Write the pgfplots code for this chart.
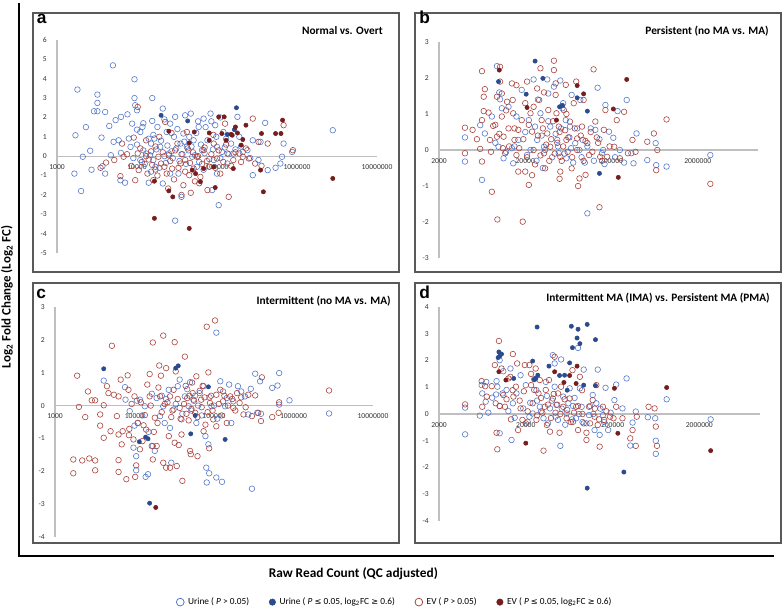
\documentclass[border=0pt]{standalone}
\usepackage{pgfplots}
\pgfplotsset{compat=1.18}
\usepackage{fontspec}
\setmainfont{Carlito}
\newfontfamily\arialf{Liberation Sans}
\newfontfamily\symf{DejaVu Sans}
\definecolor{cuo}{HTML}{5479CC}
\definecolor{cuf}{HTML}{2B4B8E}
\definecolor{ceo}{HTML}{AC433E}
\definecolor{cef}{HTML}{761D1D}
\definecolor{axgray}{HTML}{BFBFBF}
\definecolor{boxgray}{HTML}{595959}
\definecolor{tickgray}{HTML}{333333}
\pgfplotsset{
  mypanelaxis/.style={
    scale only axis,
    axis x line=middle, axis y line=left,
    axis line style={-, draw=axgray, line width=0.8pt},
    major tick length=0pt, minor tick length=0pt,
    xminorticks=false, yminorticks=false,
    hide obscured x ticks=false, hide obscured y ticks=false,
    tick label style={font=\fontsize{5.7}{6.5}\selectfont, text=tickgray, inner sep=0pt},
    yticklabel style={anchor=east, xshift=-7.5pt},
    xticklabel style={anchor=north, yshift=-6pt},
    clip=false,
  },
  pUO/.style={only marks, forget plot, mark=o, mark size=2.1pt, mark options={draw=cuo, line width=0.45pt}},
  pEO/.style={only marks, forget plot, mark=o, mark size=2.1pt, mark options={draw=ceo, line width=0.45pt}},
  pUF/.style={only marks, forget plot, mark=*, mark size=1.6pt, mark options={draw=cuf, fill=cuf}},
  pEF/.style={only marks, forget plot, mark=*, mark size=1.6pt, mark options={draw=cef, fill=cef}},
  smallimg/.style={legend image code/.code={\draw[##1] plot coordinates {(0.1cm,0cm)};}},
}
\begin{document}
\begin{tikzpicture}
\useasboundingbox (0,0) rectangle (588pt,456pt);
% outer L frame
\draw[black, line width=1.1pt] (14.25pt,453.75pt) -- (14.25pt,39pt) -- (580.5pt,39pt);
% panel boxes
\draw[boxgray, line width=0.9pt] (24.75pt,252pt) rectangle (299.25pt,446.25pt);
\draw[boxgray, line width=0.9pt] (311.25pt,252pt) rectangle (585.75pt,446.25pt);
\draw[boxgray, line width=0.9pt] (24.75pt,48.75pt) rectangle (299.25pt,243.75pt);
\draw[boxgray, line width=0.9pt] (311.25pt,48.75pt) rectangle (585.75pt,243.75pt);

% ---------------- panel a ----------------
\begin{axis}[mypanelaxis, xmode=log, at={(42.75pt,266.25pt)}, anchor=south west,
  width=240pt, height=159.75pt, ymin=-5, ymax=6,
  xmin=1000, xmax=1e7, xtick={1000,10000,100000,1000000,10000000},
  xticklabels={1000,10000,100000,1000000,10000000},
  ytick={-5,-4,-3,-2,-1,0,1,2,3,4,5,6},
  yticklabels={-5,-4,-3,-2,-1,0,1,2,3,4,5,6}]
\addplot[pUO] coordinates {(1.8e3,3.44)(1.7e3,1.08)(1.65e3,-0.9)(2.0e3,-1.8)(2.1e3,-0.03)(2.3e3,1.5)(2.6e3,0.28)(2.7e3,-0.7)(2.9e3,2.32)(3.2e3,3.18)(3.2e3,2.75)(3.2e3,2.32)(3.6e3,0.96)(3.7e3,-0.52)(4.0e3,2.28)(4.0e3,-0.9)(4.5e3,1.56)(4.7e3,0.05)(5.0e3,4.69)(5.1e3,0.74)(5.4e3,1.86)(5.9e3,0.82)(6.3e3,2.03)(6.3e3,0.17)(6.2e3,-1.24)(7.1e3,-1.37)(7.6e3,2.16)(7.9e3,0.91)(8.3e3,0.48)(8.7e3,1.68)(9.3e3,3.97)(9.3e3,3.0)(9.5e3,2.63)(1.0e4,2.37)(1.0e4,1.37)(1.1e4,1.25)(1.1e4,-0.2)(1.17e4,1.51)(1.3e4,0.14)(1.4e4,-1.37)(1.5e4,0.65)(1.55e4,3.0)(1.55e4,1.82)(1.65e4,0.91)(1.7e4,-0.55)(1.8e4,1.51)(1.95e4,0.48)(2.1e4,2.46)(2.1e4,-1.41)(2.35e4,1.25)(2.5e4,0.14)(2.6e4,1.68)(2.9e4,1.0)(3.0e4,2.03)(3.0e4,-3.33)(3.3e4,-0.9)(3.5e4,0.65)(3.6e4,-2.1)(3.8e4,1.17)(4.0e4,2.11)(4.2e4,0.48)(4.7e4,2.2)(4.9e4,-0.03)(5.1e4,0.82)(5.6e4,-0.55)(5.9e4,1.51)(6.5e4,0.31)(6.8e4,1.94)(7.6e4,0.82)(8.3e4,2.2)(8.7e4,-1.75)(9.1e4,-0.2)(9.5e4,1.6)(1.0e5,0.48)(1.05e5,-2.53)(1.15e5,0.22)(1.2e5,1.25)(1.35e5,-0.38)(1.5e5,0.65)(1.6e5,0.14)(1.8e5,2.03)(1.9e5,1.0)(2.1e5,0.22)(2.4e5,0.31)(2.8e5,0.82)(2.8e5,-0.98)(3.3e5,-0.2)(3.5e5,0.74)(4.0e5,1.72)(4.3e5,-0.72)(5.4e5,-0.6)(6.2e5,-0.38)(6.5e5,-0.03)(6.8e5,0.65)(8.7e5,0.22)(2.8e6,1.34)
(1.2e4,0.3)(1.25e4,-0.4)(1.4e4,0.9)(1.45e4,0.05)(1.6e4,-0.2)(1.6e4,1.1)(1.75e4,0.35)(1.9e4,-0.6)(2.0e4,0.8)(2.2e4,0.0)(2.3e4,-0.35)(2.4e4,0.55)(2.7e4,0.25)(2.8e4,-0.1)(3.1e4,0.4)(3.2e4,1.4)(3.4e4,-0.25)(3.7e4,0.1)(3.9e4,0.75)(4.1e4,-0.4)(4.4e4,0.3)(4.5e4,1.0)(4.8e4,0.5)(5.3e4,0.05)(5.5e4,1.2)(6.0e4,-0.3)(6.3e4,0.6)(7.0e4,0.15)(7.2e4,1.5)(8.0e4,-0.15)(8.9e4,0.35)(9.8e4,1.0)(1.1e5,-0.1)(1.25e5,0.45)(1.3e5,0.9)(1.4e5,0.1)(1.7e5,0.35)(1.2e4,1.7)(1.0e4,0.6)(9e3,-0.1)(1.5e4,-0.8)(2.6e4,-0.9)(6.8e4,-0.7)(1.0e5,-0.9)(2.0e5,0.5)(2.6e5,-0.1)(5.8e4,1.8)(8.5e4,1.8)(1.1e5,2.0)(2.2e4,1.9)};
\addplot[pEO] coordinates {(4.1e3,-0.33)(6.2e3,-1.03)(6.5e3,0.65)(6.8e3,-0.03)(9.1e3,0.96)(9.5e3,-1.24)(1.02e4,0.14)(1.05e4,-0.72)(1.02e4,2.54)(1.3e4,0.82)(1.4e4,-0.17)(1.6e4,-1.24)(1.7e4,-0.69)(1.85e4,-0.03)(2.0e4,-0.38)(2.25e4,1.77)(2.35e4,-0.9)(2.45e4,-1.67)(2.75e4,-0.64)(3.2e4,0.65)(3.5e4,-0.38)(3.6e4,-2.0)(3.8e4,-1.5)(4.0e4,-0.2)(4.2e4,1.25)(4.5e4,-0.98)(4.7e4,-1.89)(5.1e4,-0.64)(5.6e4,-0.03)(6.2e4,-1.07)(6.8e4,0.31)(7.6e4,-1.75)(8.0e4,-0.55)(9.1e4,0.65)(1.0e5,-0.12)(1.1e5,-0.9)(1.26e5,1.68)(1.35e5,0.14)(1.4e5,-2.1)(1.6e5,-0.2)(1.9e5,0.14)(2.1e5,-0.03)(2.5e5,-0.12)(2.8e5,1.94)(3.0e5,-0.38)(3.3e5,0.74)(4.3e5,0.65)(6.8e5,1.6)(8.9e5,0.31)
(3.5e3,-0.6)(5.2e3,-0.2)(7.5e3,0.1)(8.5e3,-0.5)(1.1e4,0.4)(1.15e4,-0.3)(1.3e4,0.0)(1.35e4,-0.9)(1.5e4,0.25)(1.55e4,-0.45)(1.7e4,0.5)(1.8e4,-1.0)(2.1e4,0.2)(2.2e4,-0.55)(2.5e4,0.05)(2.6e4,-0.25)(2.9e4,-1.2)(3.0e4,0.3)(3.3e4,-0.6)(3.6e4,0.1)(4.0e4,-0.8)(4.3e4,0.4)(4.6e4,-0.35)(5.0e4,0.2)(5.3e4,-1.3)(5.8e4,0.0)(6.5e4,-0.4)(7.0e4,0.45)(7.5e4,-0.25)(8.5e4,0.1)(9.5e4,-0.6)(1.05e5,0.3)(1.2e5,-0.3)(1.3e5,0.6)(1.5e5,-0.5)(1.7e5,0.2)(2.0e5,-0.3)(2.3e5,0.4)(3.6e5,-0.5)(9e4,1.1)(6e4,-1.4)(2.7e4,1.2)(1.9e4,1.0)};
\addplot[pUF] coordinates {(2.0e4,2.11)(4.3e4,1.82)(1.75e5,2.5)(1.65e5,1.37)(1.35e5,1.12)};
\addplot[pEF] coordinates {(1.65e4,-1.29)(1.65e4,-3.21)(2.5e4,1.29)(2.5e4,-1.79)(2.8e4,-2.1)(4.5e4,0.69)(4.5e4,-3.73)(4.9e4,-0.72)(5.2e4,1.25)(5.4e4,-0.9)(6.2e4,-1.32)(6.8e4,-0.64)(8.0e4,0.82)(8.0e4,1.2)(9.1e4,-0.55)(9.5e4,-1.62)(1.05e5,2.03)(1.15e5,1.17)(1.23e5,2.03)(1.3e5,0.82)(1.5e5,1.13)(1.55e5,1.08)(1.6e5,-0.64)(1.7e5,1.51)(1.8e5,1.2)(2.0e5,0.57)(2.1e5,0.86)(2.3e5,1.6)(3.5e5,-0.72)(3.6e5,1.17)(3.8e5,-1.84)(5.4e5,1.17)(6.3e5,1.17)(6.6e5,1.86)(2.8e6,-1.15)};
\end{axis}

% ---------------- panel b ----------------
\begin{axis}[mypanelaxis, xmode=log, at={(329.25pt,262.5pt)}, anchor=south west,
  width=239.25pt, height=162pt, ymin=-3, ymax=3,
  xmin=2000, xmax=1e7, xtick={2000,20000,200000,2000000},
  xticklabels={2000,20000,200000,2000000},
  ytick={-3,-2,-1,0,1,2,3}, yticklabels={-3,-2,-1,0,1,2,3}]
\addplot[pUO] coordinates {(4.0e3,0.35)(4.0e3,-0.32)(6.0e3,0.69)(6.3e3,-0.83)(6.8e3,0.46)(8.2e3,0.93)(9.4e3,2.33)(9.8e3,0.09)(1.02e4,1.41)(1.07e4,1.16)(1.12e4,-0.23)(1.28e4,1.2)(1.4e4,0.05)(1.45e4,-0.37)(1.58e4,0.93)(1.66e4,0.28)(1.82e4,1.67)(2.1e4,-0.14)(2.2e4,0.83)(2.5e4,1.96)(2.6e4,0.65)(2.75e4,0.28)(3.0e4,1.02)(3.3e4,0.09)(3.6e4,1.96)(3.7e4,1.57)(3.9e4,0.65)(4.3e4,1.76)(4.7e4,0.28)(4.9e4,-0.09)(5.1e4,1.93)(5.4e4,1.16)(5.9e4,0.83)(6.0e4,-0.23)(6.6e4,0.65)(6.9e4,1.53)(7.6e4,0.19)(8.7e4,1.39)(9.3e4,0.28)(9.8e4,-0.35)(1.05e5,-1.76)(1.15e5,0.6)(1.3e5,0.56)(1.38e5,1.73)(1.55e5,-0.09)(1.66e5,-0.39)(1.7e5,1.25)(1.87e5,0.51)(2.1e5,0.34)(2.35e5,1.08)(2.8e5,-0.35)(3.0e5,1.39)(3.4e5,-0.09)(3.6e5,-0.37)(3.9e5,0.46)(5.2e5,-0.28)(6.5e5,0.19)(6.6e5,-0.42)(8.7e5,-0.46)(2.8e6,-0.14)
(1.5e4,0.1)(2.0e4,0.5)(2.3e4,0.0)(2.7e4,-0.3)(3.1e4,0.4)(3.4e4,0.0)(3.7e4,0.8)(4.1e4,-0.2)(4.5e4,0.45)(4.8e4,0.1)(5.2e4,0.6)(5.7e4,-0.1)(6.3e4,0.35)(6.8e4,0.05)(7.2e4,-0.35)(8.0e4,0.6)(8.5e4,0.0)(9.0e4,-0.2)(1.05e5,0.1)(1.25e5,-0.3)(1.45e5,0.3)(1.6e5,0.0)(2.2e5,-0.2)(2.5e5,0.0)(1.0e4,1.6)(2.8e4,1.4)(3.2e4,-0.5)(5.5e4,1.3)(9e3,0.2)(1.2e4,-0.05)};
\addplot[pEO] coordinates {(4.0e3,0.62)(4.0e3,-0.09)(4.9e3,0.56)(5.5e3,0.3)(6.3e3,2.19)(6.6e3,1.48)(6.8e3,1.69)(6.6e3,1.08)(6.3e3,0.83)(6.0e3,0.03)(6.3e3,-0.32)(7.5e3,1.04)(7.8e3,0.28)(8.2e3,-1.16)(8.5e3,0.67)(9.4e3,0.37)(9.5e3,-1.93)(9.4e3,1.48)(1.02e4,2.31)(1.02e4,1.9)(1.07e4,1.57)(1.07e4,0.93)(1.12e4,0.37)(1.17e4,-0.09)(1.23e4,1.34)(1.28e4,0.6)(1.4e4,1.85)(1.43e4,1.39)(1.45e4,1.02)(1.5e4,0.28)(1.58e4,1.8)(1.58e4,-0.14)(1.66e4,0.56)(1.66e4,-0.6)(1.82e4,0.83)(1.87e4,-1.99)(2.0e4,-0.6)(2.1e4,1.9)(2.2e4,-0.97)(2.3e4,1.02)(2.4e4,0.51)(2.5e4,1.2)(2.75e4,1.71)(2.9e4,1.39)(3.0e4,2.27)(3.1e4,0.83)(3.3e4,-0.09)(3.4e4,-0.51)(3.6e4,0.46)(3.7e4,1.11)(3.9e4,0.09)(4.3e4,2.48)(4.3e4,2.22)(4.5e4,1.85)(4.5e4,1.53)(4.6e4,1.02)(4.9e4,0.65)(5.1e4,-0.19)(5.1e4,-0.6)(5.6e4,1.11)(5.9e4,1.81)(6.0e4,0.28)(6.6e4,0.79)(6.9e4,-0.51)(7.3e4,1.3)(7.8e4,1.9)(8.0e4,0.32)(8.2e4,-1.0)(8.5e4,-0.79)(9.1e4,0.65)(9.5e4,1.39)(1.0e5,-0.69)(1.05e5,0.19)(1.1e5,-0.14)(1.24e5,2.24)(1.3e5,0.79)(1.35e5,0.35)(1.45e5,-1.59)(1.48e5,-0.19)(1.63e5,0.56)(1.7e5,1.11)(1.78e5,-0.19)(2.15e5,0.09)(2.3e5,0.83)(2.5e5,-0.23)(2.8e5,1.06)(3.1e5,-0.09)(3.5e5,0.28)(3.8e5,-0.05)(5.2e5,0.23)(6.2e5,0.46)(6.6e5,-0.56)(6.8e5,0.0)(8.7e5,0.85)(2.8e6,-0.94)
(1.3e4,0.1)(1.5e4,0.6)(1.7e4,0.05)(1.9e4,0.3)(2.1e4,-0.2)(2.2e4,0.7)(2.5e4,0.0)(2.6e4,-0.4)(2.8e4,0.4)(3.0e4,-0.15)(3.2e4,0.6)(3.5e4,0.15)(3.8e4,-0.3)(4.0e4,0.3)(4.2e4,0.8)(4.4e4,-0.1)(4.7e4,0.2)(5.0e4,0.5)(5.3e4,-0.3)(5.5e4,0.1)(5.8e4,0.55)(6.2e4,-0.05)(6.5e4,0.35)(7.0e4,-0.2)(7.5e4,0.6)(8.0e4,0.0)(8.8e4,0.4)(9.5e4,-0.3)(1.0e5,0.25)(1.15e5,0.5)(1.2e5,-0.05)(1.4e5,0.2)(1.55e5,-0.3)(1.9e5,0.1)(1.0e4,0.45)(1.1e4,0.05)(8e3,-0.05)(9e3,0.7)(1.2e4,1.1)(2.0e4,1.3)(3.3e4,1.6)(2.4e4,-0.7)(5.0e4,-0.8)(6.0e4,1.0)};
\addplot[pUF] coordinates {(9.8e3,1.9)(2.05e4,1.55)(2.6e4,2.47)(3.2e4,1.99)(5.0e4,1.2)(5.4e4,1.24)(8.0e4,1.45)(1.05e5,1.08)(1.45e5,-0.65)};
\addplot[pEF] coordinates {(1.0e4,2.22)(2.1e4,1.18)(4.6e4,0.83)(8.0e4,1.79)(9.5e4,1.56)(2.1e5,1.14)(2.4e5,-0.76)(3.0e5,1.96)};
\end{axis}

% ---------------- panel c ----------------
\begin{axis}[mypanelaxis, xmode=log, at={(41.25pt,53.25pt)}, anchor=south west,
  width=238.5pt, height=172.5pt, ymin=-4, ymax=3,
  xmin=1000, xmax=1e7, xtick={1000,10000,100000,1000000,10000000},
  xticklabels={1000,10000,100000,1000000,10000000},
  ytick={-4,-3,-2,-1,0,1,2,3}, yticklabels={-4,-3,-2,-1,0,1,2,3},
  legend columns=4,
  legend style={at={(axis description cs:1.07,-0.283)}, anchor=center, draw=none, fill=none,
    font=\fontsize{7}{8}\selectfont, /tikz/every even column/.append style={column sep=13pt},
    /tikz/every odd column/.append style={column sep=1pt}},
  legend cell align=left,
  ]
\addlegendimage{only marks, mark=o, mark size=2.9pt, mark options={draw=cuo, line width=0.6pt}, smallimg}
\addlegendentry{Urine ( \textit{P} > 0.05)}
\addlegendimage{only marks, mark=*, mark size=2.4pt, mark options={draw=cuf, fill=cuf}, smallimg}
\addlegendentry{Urine ( \textit{P} {\symf\fontsize{6.2}{8}\selectfont ≤} 0.05, log\textsubscript{2}FC {\symf\fontsize{6.2}{8}\selectfont ≥} 0.6)}
\addlegendimage{only marks, mark=o, mark size=2.9pt, mark options={draw=ceo, line width=0.6pt}, smallimg}
\addlegendentry{EV ( \textit{P} > 0.05)}
\addlegendimage{only marks, mark=*, mark size=2.4pt, mark options={draw=cef, fill=cef}, smallimg}
\addlegendentry{EV ( \textit{P} {\symf\fontsize{6.2}{8}\selectfont ≤} 0.05, log\textsubscript{2}FC {\symf\fontsize{6.2}{8}\selectfont ≥} 0.6)}
\addplot[pUO] coordinates {(4.1e3,0.76)(7.6e3,0.56)(7.7e3,0.18)(8.7e3,-0.17)(9.7e3,-1.28)(1.0e4,-0.61)(1.07e4,0.15)(1.05e4,-1.54)(1.05e4,-1.97)(1.1e4,-0.53)(1.17e4,0.18)(1.35e4,-0.02)(1.38e4,-2.17)(1.48e4,-2.09)(1.65e4,0.36)(1.7e4,-1.23)(1.8e4,-1.38)(1.9e4,0.23)(2.1e4,-0.32)(2.3e4,-0.02)(2.4e4,-0.53)(2.7e4,0.48)(2.8e4,-0.68)(2.9e4,-1.74)(3.1e4,-0.12)(3.5e4,0.59)(3.7e4,0.79)(3.9e4,-0.42)(4.3e4,0.28)(4.8e4,-0.02)(5.0e4,0.71)(5.5e4,0.18)(6.0e4,-0.53)(6.6e4,0.38)(7.4e4,0.59)(7.8e4,-0.93)(8.0e4,-1.89)(8.1e4,-2.34)(8.5e4,-1.18)(8.7e4,-2.06)(9.3e4,-0.02)(1.07e5,2.22)(1.07e5,-2.19)(1.2e5,0.74)(1.26e5,-2.32)(1.3e5,0.43)(1.38e5,-0.02)(1.45e5,0.23)(1.55e5,0.64)(1.65e5,-0.53)(1.75e5,0.13)(2.0e5,0.59)(2.2e5,0.43)(2.45e5,0.28)(2.7e5,-0.27)(2.9e5,0.51)(3.0e5,-2.53)(3.3e5,0.97)(3.5e5,-0.22)(3.8e5,0.74)(3.9e5,-0.25)(5.4e5,0.54)(6.3e5,0.61)(6.6e5,0.99)(6.6e5,0.03)(8.9e5,0.16)(2.8e6,-0.24)
(2.5e4,0.2)(3.3e4,0.05)(4.0e4,-0.25)(4.6e4,0.5)(5.2e4,-0.15)(5.8e4,0.3)(6.3e4,0.0)(7.0e4,-0.3)(8.8e4,0.25)(1.0e5,0.0)(1.1e5,-0.4)(2.2e4,0.3)(1.5e4,-0.8)(1.25e4,-0.3)};
\addplot[pEO] coordinates {(1.9e3,0.91)(1.7e3,-1.64)(1.7e3,-2.06)(2.0e3,-0.04)(2.2e3,-1.67)(2.4e3,-0.35)(2.6e3,0.43)(2.7e3,-1.61)(2.9e3,0.16)(3.2e3,0.16)(3.2e3,-1.67)(3.2e3,-1.97)(3.7e3,-0.27)(3.7e3,-0.61)(4.1e3,0.01)(4.1e3,-0.98)(4.5e3,0.59)(4.7e3,0.38)(5.0e3,-0.78)(5.2e3,1.82)(5.5e3,0.33)(6.0e3,-0.32)(6.3e3,0.28)(6.3e3,-0.88)(6.3e3,-1.66)(6.3e3,-2.02)(6.7e3,0.79)(6.9e3,-1.18)(7.1e3,-0.78)(7.9e3,-2.24)(8.2e3,0.92)(8.4e3,0.48)(8.6e3,-0.71)(9.2e3,0.05)(9.7e3,-1.03)(1.0e4,0.28)(1.02e4,-2.17)(1.05e4,-1.82)(1.1e4,-0.53)(1.17e4,-1.33)(1.26e4,-1.08)(1.35e4,-0.29)(1.4e4,-0.73)(1.45e4,0.64)(1.55e4,0.96)(1.55e4,0.28)(1.65e4,-1.23)(1.7e4,1.92)(1.7e4,-1.64)(1.8e4,-0.37)(1.9e4,-1.23)(1.95e4,-0.53)(2.05e4,1.22)(2.1e4,0.28)(2.15e4,0.91)(2.3e4,2.13)(2.3e4,-1.74)(2.4e4,0.05)(2.5e4,1.14)(2.5e4,-1.89)(2.7e4,-0.93)(2.8e4,0.28)(2.8e4,-1.89)(2.9e4,-0.35)(3.1e4,0.48)(3.2e4,1.93)(3.2e4,-1.13)(3.3e4,1.04)(3.4e4,-1.84)(3.7e4,-0.07)(3.9e4,-0.88)(4.0e4,-2.29)(4.3e4,1.49)(4.6e4,0.23)(4.8e4,-0.45)(5.0e4,-1.38)(5.1e4,-1.48)(5.4e4,0.38)(5.8e4,-0.22)(6.0e4,0.89)(6.2e4,-1.54)(6.9e4,0.18)(7.4e4,-0.78)(7.8e4,-0.58)(8.1e4,2.4)(8.5e4,1.01)(8.7e4,-1.3)(8.9e4,0.08)(9.8e4,-0.42)(1.03e5,2.59)(1.07e5,0.33)(1.07e5,-0.63)(1.2e5,0.48)(1.3e5,0.13)(1.45e5,-0.53)(1.6e5,0.28)(1.75e5,-0.07)(1.95e5,0.38)(2.1e5,0.08)(2.35e5,-0.27)(2.7e5,0.33)(3.0e5,-0.32)(3.3e5,0.31)(3.6e5,-0.22)(3.9e5,-0.47)(4.0e5,0.86)(5.4e5,-0.35)(6.5e5,-0.22)(6.6e5,0.1)(2.8e6,0.46)
(2.2e4,-0.2)(2.6e4,0.1)(3.0e4,-0.15)(3.5e4,0.2)(3.8e4,-0.4)(4.2e4,0.05)(4.5e4,-0.25)(4.9e4,0.3)(5.2e4,-0.1)(5.6e4,0.15)(6.2e4,-0.35)(6.6e4,0.45)(7.0e4,-0.05)(7.6e4,0.25)(8.3e4,-0.2)(9.2e4,0.3)(9.6e4,-0.15)(1.15e5,0.05)(1.25e5,-0.3)(1.35e5,0.3)(1.5e5,0.0)(1.7e5,0.2)(1.85e5,-0.15)(2.2e5,0.25)(2.5e5,-0.05)(1.2e4,0.1)(1.3e4,-0.6)(1.6e4,0.0)(1.75e4,-0.8)(2.0e4,0.55)(8.5e3,-0.9)(3.6e4,-1.2)(4.4e4,0.6)(5.3e4,0.7)(7.2e4,0.6)};
\addplot[pUF] coordinates {(4.1e3,1.12)(1.15e4,-1.1)(1.38e4,-0.96)(1.48e4,-1.01)(1.55e4,-2.97)(3.3e4,1.14)(3.55e4,1.21)(5.1e4,-0.86)(5.8e4,-0.3)(8.5e4,0.57)(1.38e5,-1.03)};
\addplot[pEF] coordinates {(1.85e4,-3.1)};
\end{axis}

% ---------------- panel d ----------------
\begin{axis}[mypanelaxis, xmode=log, at={(329.25pt,65.25pt)}, anchor=south west,
  width=240.75pt, height=160.5pt, ymin=-4, ymax=4,
  xmin=2000, xmax=1e7, xtick={2000,20000,200000,2000000},
  xticklabels={2000,20000,200000,2000000},
  ytick={-4,-3,-2,-1,0,1,2,3,4}, yticklabels={-4,-3,-2,-1,0,1,2,3,4}]
\addplot[pUO] coordinates {(4.0e3,-0.76)(4.0e3,0.24)(5.9e3,-0.06)(6.2e3,1.08)(6.3e3,0.77)(6.9e3,0.46)(7.4e3,0.05)(8.2e3,0.61)(9.1e3,0.73)(9.2e3,1.23)(9.4e3,1.02)(1.0e4,-0.72)(1.0e4,2.01)(1.08e4,0.77)(1.26e4,0.11)(1.33e4,1.7)(1.37e4,-0.97)(1.42e4,0.4)(1.49e4,-0.14)(1.56e4,0.77)(1.74e4,1.45)(1.87e4,0.21)(2.0e4,1.08)(2.1e4,-0.29)(2.25e4,0.42)(2.4e4,0.02)(2.65e4,0.89)(2.9e4,0.27)(3.2e4,-0.16)(3.5e4,0.68)(3.6e4,-0.35)(3.8e4,0.21)(4.1e4,2.2)(4.3e4,1.89)(4.3e4,1.02)(4.5e4,0.34)(4.7e4,-0.22)(5.0e4,-1.19)(5.1e4,2.04)(5.4e4,0.65)(5.9e4,0.02)(6.4e4,0.96)(7.0e4,0.3)(7.6e4,-0.16)(8.0e4,2.47)(8.4e4,0.96)(8.8e4,0.27)(9.3e4,1.66)(1.0e5,-0.35)(1.07e5,-0.04)(1.18e5,0.71)(1.24e5,-0.6)(1.3e5,0.4)(1.35e5,1.66)(1.42e5,-0.78)(1.55e5,-0.04)(1.66e5,0.98)(1.78e5,-0.6)(1.9e5,0.05)(2.1e5,0.52)(2.2e5,1.1)(2.6e5,0.21)(2.9e5,1.33)(3.2e5,-1.18)(3.4e5,-0.32)(3.7e5,0.09)(5.1e5,-0.12)(6.2e5,-0.16)(6.3e5,-1.0)(6.3e5,-1.49)(8.4e5,0.55)(2.7e6,-0.2)
(2.2e4,-0.1)(2.7e4,0.5)(3.0e4,0.1)(3.4e4,1.2)(4.0e4,0.5)(4.4e4,-0.1)(5.2e4,0.2)(5.7e4,-0.4)(6.2e4,0.4)(6.8e4,-0.2)(7.3e4,0.6)(8.2e4,0.0)(9.0e4,-0.3)(1.1e5,0.3)(1.2e5,0.0)(1.45e5,0.2)(1.6e5,-0.3)(1.0e4,0.3)(1.1e4,1.6)(1.2e4,0.9)(7e3,1.2)(2.5e4,1.3)};
\addplot[pEO] coordinates {(4.0e3,0.36)(6.2e3,1.23)(6.3e3,0.27)(6.8e3,1.04)(7.1e3,0.65)(8.1e3,1.04)(8.8e3,1.83)(9.2e3,-0.7)(9.4e3,-1.32)(9.8e3,2.73)(1.0e4,0.3)(1.05e4,1.7)(1.1e4,0.71)(1.15e4,0.27)(1.26e4,1.33)(1.33e4,1.39)(1.41e4,0.89)(1.42e4,2.24)(1.44e4,0.65)(1.54e4,1.02)(1.59e4,1.89)(1.63e4,-0.6)(1.74e4,0.21)(1.83e4,-0.22)(1.95e4,1.83)(2.0e4,-0.35)(2.2e4,1.83)(2.3e4,1.08)(2.4e4,0.4)(2.6e4,1.7)(2.65e4,-0.22)(2.8e4,0.77)(2.9e4,1.27)(3.2e4,-1.37)(3.3e4,0.27)(3.5e4,-0.41)(3.7e4,1.27)(3.8e4,-0.66)(4.1e4,0.58)(4.3e4,2.14)(4.4e4,0.05)(4.7e4,0.77)(4.9e4,-0.7)(5.1e4,1.02)(5.4e4,0.27)(5.9e4,-0.16)(6.4e4,0.58)(6.9e4,1.64)(7.0e4,-0.29)(7.6e4,0.27)(8.0e4,-0.6)(8.4e4,1.39)(8.9e4,0.89)(9.3e4,-0.35)(1.0e5,-0.7)(1.0e5,-0.97)(1.07e5,0.27)(1.18e5,0.52)(1.24e5,-0.1)(1.3e5,1.08)(1.35e5,-0.41)(1.42e5,-1.22)(1.55e5,0.27)(1.6e5,-0.22)(1.87e5,-0.1)(2.05e5,-0.16)(2.2e5,0.27)(2.6e5,-0.16)(3.2e5,-0.91)(3.4e5,-0.6)(3.7e5,-1.19)(3.8e5,-0.1)(5.2e5,0.27)(6.1e5,0.21)(6.3e5,-0.47)(6.5e5,-1.19)
(1.7e4,0.5)(2.1e4,0.1)(2.5e4,0.9)(2.7e4,-0.05)(3.0e4,0.6)(3.1e4,0.05)(3.4e4,0.9)(3.6e4,0.35)(3.9e4,-0.15)(4.2e4,0.75)(4.6e4,0.35)(5.0e4,0.0)(5.6e4,0.55)(6.0e4,0.15)(6.6e4,-0.3)(7.2e4,0.05)(8.0e4,0.3)(9.0e4,0.0)(1.1e5,-0.35)(1.25e5,0.2)(1.4e5,-0.2)(1.7e5,0.1)(9e3,0.4)(1.2e4,0.55)(1.35e4,-0.2)(1.9e4,0.85)(2.3e4,1.5)};
\addplot[pUF] coordinates {(9.8e3,2.32)(1.0e4,2.16)(1.05e4,2.24)(9.6e3,2.11)(1.45e4,1.33)(2.4e4,1.98)(2.5e4,1.29)(2.6e4,1.33)(2.7e4,3.25)(2.75e4,1.45)(3.7e4,1.79)(4.9e4,1.44)(5.6e4,1.45)(6.0e4,0.89)(6.4e4,1.91)(6.7e4,3.28)(6.9e4,2.48)(7.8e4,2.84)(8.0e4,3.17)(8.4e4,2.63)(9.3e4,1.08)(1.02e5,3.35)(1.02e5,-2.77)(1.27e5,2.78)(1.27e5,1.06)(2.7e5,-2.17)};
\addplot[pEF] coordinates {(9.8e3,1.58)(1.18e4,1.27)(2.0e4,-1.09)(4.3e4,1.58)(5.5e4,1.18)(6.4e4,1.44)(7.6e4,1.14)(7.8e4,1.79)(2.1e5,0.96)(2.3e5,-0.72)(8.4e5,0.99)(2.7e6,-1.37)};
\end{axis}

% panel letters and titles
\node[anchor=base west, inner sep=0pt, font=\arialf\bfseries\fontsize{13}{14}\selectfont] at (27.5pt,438pt) {a};
\node[anchor=base west, inner sep=0pt, font=\arialf\bfseries\fontsize{13}{14}\selectfont] at (314.25pt,438pt) {b};
\node[anchor=base west, inner sep=0pt, font=\arialf\bfseries\fontsize{13}{14}\selectfont] at (27pt,232.5pt) {c};
\node[anchor=base west, inner sep=0pt, font=\arialf\bfseries\fontsize{13}{14}\selectfont] at (314.25pt,232.5pt) {d};
\node[anchor=east, inner sep=0pt, font=\bfseries\fontsize{8.5}{10}\selectfont] at (287.25pt,432.75pt) {Normal vs. Overt};
\node[anchor=east, inner sep=0pt, font=\bfseries\fontsize{8.5}{10}\selectfont] at (576.75pt,432.75pt) {Persistent (no MA vs. MA)};
\node[anchor=east, inner sep=0pt, font=\bfseries\fontsize{8.5}{10}\selectfont] at (293.25pt,230.25pt) {Intermittent (no MA vs. MA)};
\node[anchor=east, inner sep=0pt, font=\bfseries\fontsize{8.5}{10}\selectfont] at (577.5pt,232.5pt) {Intermittent MA (IMA) vs. Persistent MA (PMA)};
% axis titles
\node[rotate=90, inner sep=0pt, font=\bfseries\fontsize{9.7}{11}\selectfont] at (5.25pt,233.25pt) {Log\textsubscript{2} Fold Change (Log\textsubscript{2} FC)};
\node[inner sep=0pt, font=\bfseries\fontsize{10}{12}\selectfont] at (265pt,25.5pt) {Raw Read Count (QC adjusted)};
\end{tikzpicture}
\end{document}
